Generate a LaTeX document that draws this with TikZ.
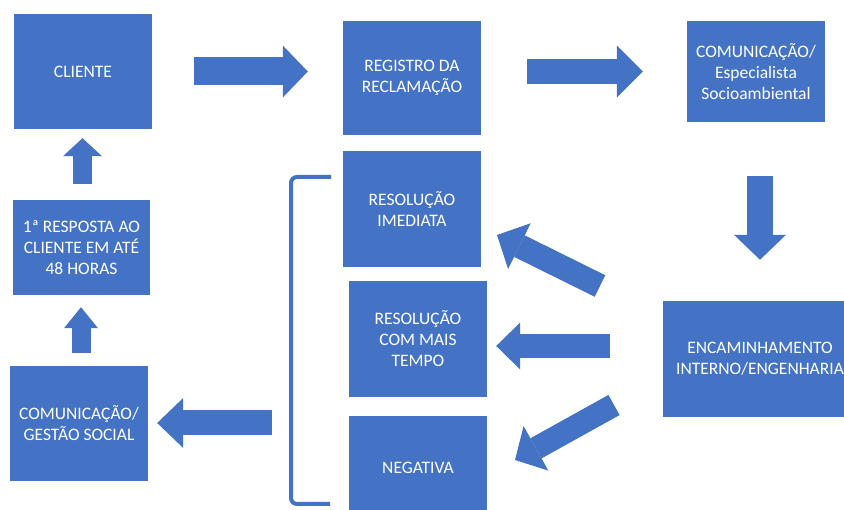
\documentclass[tikz,border=0pt]{standalone}
\usepackage{fontspec}
\setmainfont{Carlito}
\usetikzlibrary{arrows.meta}
\definecolor{officeblue}{HTML}{4472C4}
\begin{document}
\begin{tikzpicture}[x=1pt,y=-1pt,
  box/.style={fill=officeblue, text=white, align=center, inner sep=0pt, font=\fontsize{17.5}{21}\selectfont},
  blockarrow/.style n args={3}{draw=officeblue, line width=#1, -{Triangle[length=#3,width=#2,line width=0pt]}},
  bracketline/.style={draw=officeblue, line width=4pt, rounded corners=6pt}
]
\useasboundingbox (0,0) rectangle (844,510);
\fill[white] (0,0) rectangle (844,510);
\clip (0,0) rectangle (844,510);

\node[box, minimum width=138pt, minimum height=115pt] (cliente) at (83,71.5) {CLIENTE};
\node[box, minimum width=138pt, minimum height=114pt] (registro) at (412,78) {REGISTRO DA\\RECLAMAÇÃO};
\node[box, minimum width=138pt, minimum height=101pt] (especialista) at (756,71.5) {COMUNICAÇÃO/\\Especialista\\Socioambiental};
\node[box, minimum width=194pt, minimum height=116pt] (encaminhamento) at (760,359) {ENCAMINHAMENTO\\INTERNO/ENGENHARIA};
\node[box, minimum width=138pt, minimum height=116pt] (imediata) at (412,209) {RESOLUÇÃO\\IMEDIATA};
\node[box, minimum width=138pt, minimum height=116pt] (maistempo) at (418,339) {RESOLUÇÃO\\COM MAIS\\TEMPO};
\node[box, minimum width=138pt, minimum height=104pt] (negativa) at (418,468) {NEGATIVA};
\node[box, minimum width=138pt, minimum height=115pt] (gestao) at (79,423.5) {COMUNICAÇÃO/\\GESTÃO SOCIAL};
\node[box, minimum width=137pt, minimum height=95pt] (resposta) at (81.5,247.5) {1ª RESPOSTA AO\\CLIENTE EM ATÉ\\48 HORAS};

% bracket
\draw[bracketline] (331,177) -- (291,177) -- (291,504) -- (330,504);
\coordinate (brk) at (291,423);

% arrows
\draw[blockarrow={28pt}{52pt}{25pt}, shorten <=42pt, shorten >=35pt] (cliente.east) -- (cliente.east -| registro.west);
\draw[blockarrow={25pt}{52pt}{26pt}, shorten <=46pt, shorten >=44pt] (registro.east |- especialista.west) -- (especialista.west);
\draw[blockarrow={26pt}{52pt}{25pt}, shorten <=54pt, shorten >=41pt] (encaminhamento.north |- especialista.south) -- (encaminhamento.north);

\coordinate (d1t) at (600,286);
\coordinate (d1h) at (497,235);
\draw[blockarrow={24pt}{51pt}{25pt}] (d1t) -- (d1h);

\draw[blockarrow={24pt}{47pt}{24pt}, shorten <=53pt, shorten >=9pt] ([yshift=13pt]encaminhamento.west) -- ([yshift=13pt]encaminhamento.west -| maistempo.east);

\coordinate (d3t) at (614,405);
\coordinate (d3h) at (515,460);
\draw[blockarrow={23pt}{51pt}{24pt}] (d3t) -- (d3h);

\draw[blockarrow={25pt}{50pt}{26pt}, shorten <=19pt, shorten >=9pt] (brk) -- (brk -| gestao.east);

\draw[blockarrow={19pt}{34pt}{21pt}, shorten <=13pt, shorten >=12pt] ([xshift=2pt]gestao.north) -- ([xshift=2pt]gestao.north |- resposta.south);
\draw[blockarrow={19pt}{39pt}{18pt}, shorten <=16pt, shorten >=9pt] ([xshift=1pt]resposta.north) -- ([xshift=1pt]resposta.north |- cliente.south);
\end{tikzpicture}
\end{document}
